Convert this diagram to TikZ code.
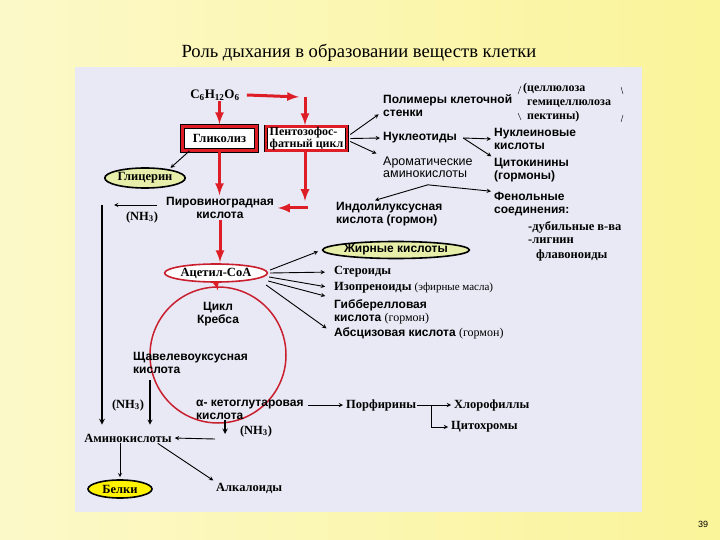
\documentclass[tikz,border=0pt]{standalone}
\usepackage{fontspec}
\setmainfont{Liberation Serif}
\setsansfont{Liberation Sans}
\usetikzlibrary{shapes.geometric}
\definecolor{panelc}{RGB}{233,233,245}
\definecolor{redc}{RGB}{222,30,38}
\definecolor{krebsc}{RGB}{200,30,45}
\definecolor{oilc}{RGB}{230,238,170}
\definecolor{yelc}{RGB}{248,240,120}

\begin{document}
\begin{tikzpicture}[x=1pt,y=-1pt,
  sl/.style={font=\sffamily\bfseries\fontsize{12}{13}\selectfont, inner sep=1pt, align=left},
  rl/.style={font=\bfseries\fontsize{12.5}{13}\selectfont, inner sep=1pt, align=left},
  redarr/.style={draw=redc, line width=3pt, -latex, shorten >=1pt},
  barr/.style={draw=black, line width=.9pt, -stealth, shorten >=2pt},
  oval/.style={ellipse, draw, line width=1.6pt, inner sep=0pt},
  frame/.style={rectangle, draw=black, line width=.6pt, double=redc, fill=white}]
 % slide and panel
 \shade[left color=yelc!40!white, middle color=white, right color=yelc!75!white] (0,0) rectangle (720,540);
 \fill[panelc] (75,67) rectangle (642,512);
 \node (ttl) at (359,53) {\fontsize{18.6}{20}\selectfont Роль дыхания в образовании веществ клетки};
 \node (pg) at (703,524) {\sffamily\fontsize{9}{10}\selectfont 39};

 % glucose and the two pathways
 \node (glu) [rl, font=\bfseries\fontsize{13}{14}\selectfont] at (215,95) {C\textsubscript{6}H\textsubscript{12}O\textsubscript{6}};
 \node (glk) [frame, line width=.7pt, double distance=3.5pt, minimum width=74pt, minimum height=24pt, rl] at (219.5,138.5) {Гликолиз};
 \node (ppc) [frame, double distance=2.4pt, minimum width=81pt, minimum height=24pt, rl, inner sep=0pt, font=\bfseries\fontsize{12}{9.5}\selectfont] at (306.5,138.5) {Пентозофос-\\фатный цикл};
 \node (gly) [oval, fill=oilc, minimum width=76pt, minimum height=20pt, rl] at (145,178) {Глицерин};
 \node (pvk) [sl, align=center] at (220,208) {Пировиноградная\\кислота};
 \node (nh1) [rl] at (142,217) {(NH\textsubscript{3})};
 \coordinate (gr) at (300,97);
 \coordinate (pk) at (305,208);
 \coordinate (vl) at (102,205);

 % Krebs cycle
 \node (aca) [oval, draw=krebsc, fill=white, minimum width=98pt, minimum height=18pt, rl] at (216,273) {Ацетил-CoA};
 \node (krc) [circle, draw=krebsc, line width=1.5pt, minimum size=136pt, inner sep=0pt] at (218,355) {};
 \node (krb) [sl, align=center] at (218,314) {Цикл\\Кребса};
 \node (shk) [sl, anchor=west] at (132,363) {Щавелевоуксусная\\кислота};
 \node (nh2) [rl] at (128,405) {(NH\textsubscript{3})};
 \node (akg) [sl, anchor=west] at (195,409.5) {α- кетоглутаровая\\кислота};
 \node (nh3) [rl] at (256,431) {(NH\textsubscript{3})};
 \node (amk) [rl] at (128,438) {Аминокислоты};
 \node (bel) [oval, fill=yellow, minimum width=64pt, minimum height=18pt, rl] at (120,489) {Белки};
 \node (alk) [rl, anchor=west] at (215,488) {Алкалоиды};
 \node (por) [rl, anchor=west] at (345,405) {Порфирины};
 \node (hlf) [rl, anchor=west] at (453,405) {Хлорофиллы};
 \node (cyt) [rl, anchor=west] at (450,427) {Цитохромы};
 \coordinate (sd) at (150,380);
 \coordinate (dk) at (225,439);

 % products of the pentose cycle
 \node (pol) [sl, anchor=west] at (382,105.5) {Полимеры клеточной\\стенки};
 \node (cel) [rl, anchor=west, font=\bfseries\fontsize{12}{14}\selectfont] at (522,103) {(целлюлоза\\\hspace{4pt}гемицеллюлоза\\\hspace{4pt}пектины)};
 \node (nuc) [sl, anchor=west] at (382,138) {Нуклеотиды};
 \node (aro) [sl, anchor=west, font=\sffamily\fontsize{12.5}{11.5}\selectfont] at (382,167.5) {Ароматические\\аминокислоты};
 \node (nkl) [sl, anchor=west] at (493,139) {Нуклеиновые\\кислоты};
 \node (ctk) [sl, anchor=west] at (493,170.5) {Цитокинины\\(гормоны)};
 \node (iuk) [sl, anchor=west] at (335,214) {Индолилуксусная\\кислота (гормон)};
 \node (fen) [sl, anchor=west] at (493,204.5) {Фенольные\\соединения:};
 \node (dub) [rl, anchor=west] at (527,227) {-дубильные в-ва};
 \node (lig) [rl, anchor=west] at (527,241) {-лигнин};
 \node (flv) [rl, anchor=west] at (535,255) {флавоноиды};

 % products of acetyl-CoA
 \node (fat) [oval, fill=oilc, minimum width=134pt, minimum height=17pt, sl, inner sep=0pt] at (396,250) {Жирные кислоты};
 \node (ste) [rl, anchor=west] at (333,272) {Стероиды};
 \node (izo) [rl, anchor=west] at (333,288) {Изопреноиды {\mdseries\fontsize{11}{13}\selectfont(эфирные масла)}};
 \node (gib) [sl, anchor=west] at (333,311.5) {Гибберелловая\\кислота {\mdseries\rmfamily(гормон)}};
 \node (abs) [sl, anchor=west] at (333,333) {Абсцизовая кислота {\mdseries\rmfamily(гормон)}};

 % red arrows
 \draw[redarr, shorten >=2pt] (glk.north |- glu.south) -- (glk.north);
 \draw[redarr] ([xshift=6pt]glu.east) -- (gr);
 \draw[redarr] ([xshift=5pt]gr) -- (ppc.north -| pk);
 \draw[redarr] (glk.south) -- (glk.south |- pvk.north);
 \draw[redarr] (ppc.south -| pk) -- ([yshift=6pt]pk);
 \draw[redarr, shorten >=3pt] ([xshift=3pt]pk) -- (pvk.east);
 \draw[redarr] (pvk.south) -- (pvk.south |- aca.north);
 \draw[redarr, line width=2pt] (aca.south) -- ([yshift=-5pt]krc.north);

 % black arrows
 \draw[barr] ([xshift=-30pt]glk.south) -- (gly.20);
 \draw[barr] ([xshift=-8pt,yshift=3pt]pvk.west) -- ([xshift=10pt]vl);
 \draw[barr, line width=1.6pt, shorten >=8pt] (vl) -- (vl |- amk.north);
 \draw[barr, line width=1.2pt, shorten >=8pt] (sd) -- (sd |- amk.north);
 \draw[barr, line width=1.4pt] (akg.south west -| dk) -- ([yshift=3pt]dk);
 \draw[barr] ([xshift=-10pt]dk) -- (amk.east);
 \draw[barr] (bel.north |- amk.south) -- (bel.north);
 \draw[barr] ([xshift=-15pt]amk.south east) -- (alk.north west);
 \draw[barr, shorten <=3pt] (akg.east |- por.west) -- (por.west);
 \draw[barr] (por.east) -- (hlf.west);
 \draw[barr] ([xshift=14pt]por.east) |- (cyt.west);

 \draw[barr, shorten >=4pt] ([xshift=2pt,yshift=3pt]aca.east) -- (fat.west);
 \draw[barr, shorten >=8pt] ([xshift=2pt]aca.east) -- (ste.west);
 \draw[barr, shorten >=8pt] ([xshift=1pt,yshift=-4pt]aca.east) -- (izo.west);
 \draw[barr, shorten >=8pt] ([yshift=-8pt]aca.east) -- (gib.north west);
 \draw[barr, shorten >=8pt] ([xshift=-2pt,yshift=-12pt]aca.east) -- (abs.west);

 \draw[barr, shorten >=4pt] ([xshift=3pt,yshift=4pt]ppc.east) -- ([yshift=-6.5pt]pol.west);
 \draw[barr] ([xshift=3pt]ppc.east) -- (nuc.west);
 \draw[barr, shorten >=6pt] ([xshift=3pt,yshift=-3pt]ppc.east) -- (aro.north west);
 \draw[barr] ([xshift=5pt]nuc.east) -- (nkl.west);
 \draw[barr] ([xshift=5pt]nuc.east) -- (ctk.north west);
 \draw[barr] ([yshift=-6pt]aro.south) -- ([xshift=38pt]iuk.north west);
 \draw[barr] ([yshift=-6pt]aro.south) -- (fen.north west);

 % bracket round the polymers
 \draw[thin] (518,94) -- (521,86);
 \draw[thin] (518,113) -- (521,120);
 \draw[thin] (621,87) -- (623,94);
 \draw[thin] (623,115) -- (621,122);
\end{tikzpicture}
\end{document}
